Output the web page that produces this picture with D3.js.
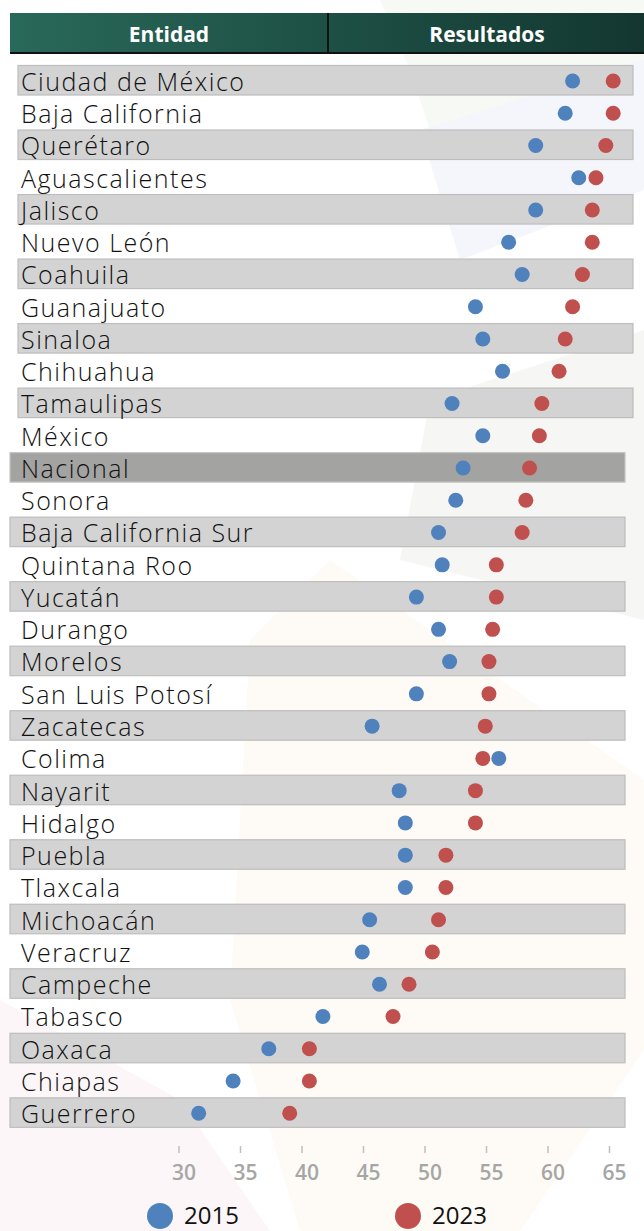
<!DOCTYPE html>
<html>
<head>
<meta charset="utf-8">
<script src="https://cdn.jsdelivr.net/npm/d3@7"></script>
<style>
  body { margin: 0; background: #fff; }
  svg { display: block; }
  text { font-family: "Open Sans", "Noto Sans", sans-serif; }
</style>
</head>
<body>
<div id="chart"></div>
<script>
var entidades = ["Ciudad de México", "Baja California", "Querétaro", "Aguascalientes", "Jalisco",
    "Nuevo León", "Coahuila", "Guanajuato", "Sinaloa", "Chihuahua", "Tamaulipas", "México",
    "Nacional", "Sonora", "Baja California Sur", "Quintana Roo", "Yucatán", "Durango", "Morelos",
    "San Luis Potosí", "Zacatecas", "Colima", "Nayarit", "Hidalgo", "Puebla", "Tlaxcala",
    "Michoacán", "Veracruz", "Campeche", "Tabasco", "Oaxaca", "Chiapas", "Guerrero"];
var v2015 = [62.0, 61.4, 59.0, 62.5, 59.0, 56.8, 57.9, 54.1, 54.7, 56.3, 52.2, 54.7,
    53.1, 52.5, 51.1, 51.4, 49.3, 51.1, 52.0, 49.3, 45.7, 56.0, 47.9, 48.4, 48.4, 48.4,
    45.5, 44.9, 46.3, 41.7, 37.3, 34.4, 31.6];
var v2023 = [65.3, 65.3, 64.7, 63.9, 63.6, 63.6, 62.8, 62.0, 61.4, 60.9, 59.5, 59.3,
    58.5, 58.2, 57.9, 55.8, 55.8, 55.5, 55.2, 55.2, 54.9, 54.7, 54.1, 54.1, 51.7, 51.7,
    51.1, 50.6, 48.7, 47.4, 40.6, 40.6, 39.0];
var tickValues = [30, 35, 40, 45, 50, 55, 60, 65];
var series = ["2015", "2023"];
var colors = ["#4f81bd", "#c0504d"];

var W = 644, H = 1231;
var svg = d3.select("#chart").append("svg").attr("width", W).attr("height", H);

// faint watermark shapes in the background
var bg = svg.append("g");
[
  {pts: [[380,0],[644,0],[644,120],[470,250],[410,70]], c: "#f7f9f5"},
  {pts: [[644,60],[420,130],[460,260],[644,190]], c: "#f5f6fc"},
  {pts: [[644,330],[430,400],[400,560],[644,620]], c: "#f6f6f5"},
  {pts: [[250,640],[330,560],[644,780],[644,1050],[520,1231],[300,1231],[230,1000]], c: "#fefbf6"},
  {pts: [[0,1000],[180,1100],[270,1231],[0,1231]], c: "#fcf6f9"}
].forEach(function(s) {
    bg.append("polygon").attr("points", s.pts.join(" ")).attr("fill", s.c);
});

// header
var grad = svg.append("defs").append("linearGradient").attr("id", "hdr");
grad.append("stop").attr("offset", "0%").attr("stop-color", "#29695a");
grad.append("stop").attr("offset", "100%").attr("stop-color", "#133730");
svg.append("rect").attr("x", 10).attr("y", 13).attr("width", W - 10).attr("height", 40)
    .attr("fill", "url(#hdr)");
svg.append("line").attr("x1", 10).attr("x2", W).attr("y1", 53).attr("y2", 53)
    .attr("stroke", "#111").attr("stroke-width", 2);
svg.append("line").attr("x1", 328).attr("x2", 328).attr("y1", 13).attr("y2", 53)
    .attr("stroke", "#111").attr("stroke-width", 2);
svg.append("text").attr("x", 169).attr("y", 42).attr("text-anchor", "middle")
    .attr("fill", "#fff").attr("font-size", 21).attr("font-weight", 700).text("Entidad");
svg.append("text").attr("x", 487).attr("y", 42).attr("text-anchor", "middle")
    .attr("fill", "#fff").attr("font-size", 21).attr("font-weight", 700).text("Resultados");

var x = d3.scaleLinear().domain([30, 65]).range([179, 609.5]);
var y = d3.scaleBand().domain(entidades).range([64.3, 64.3 + 33 * 32.26]);

var rows = svg.append("g").selectAll("g").data(entidades).join("g")
    .attr("transform", function(d) { return "translate(0," + y(d) + ")"; });

// alternate bands; the upper block sits a bit to the right of the lower one
rows.filter(function(d, i) { return i % 2 == 0; })
    .append("rect")
    .attr("x", function(d, i) { return entidades.indexOf(d) < 12 ? 18 : 10; })
    .attr("y", 1.2)
    .attr("width", 615)
    .attr("height", 29.5)
    .attr("fill", function(d) { return d == "Nacional" ? "#a3a3a1" : "#d3d3d3"; })
    .attr("stroke", function(d) { return d == "Nacional" ? "#c4c4c4" : "#bdbdbd"; })
    .attr("stroke-width", 1.2);

rows.append("text")
    .attr("x", 21)
    .attr("y", 26.5)
    .attr("font-size", 25)
    .attr("font-weight", 300)
    .attr("letter-spacing", 1.5)
    .attr("fill", "#111")
    .text(function(d) { return d; });

var vals = [v2015, v2023];
series.forEach(function(s, k) {
    rows.append("circle")
        .attr("cx", function(d, i) { return x(vals[k][entidades.indexOf(d)]); })
        .attr("cy", y.bandwidth() / 2 + 0.5)
        .attr("r", 7.5)
        .attr("fill", colors[k]);
});

// axis
var axis = svg.append("g").attr("transform", "translate(0,1146)");
axis.selectAll("line").data(tickValues).join("line")
    .attr("x1", x).attr("x2", x).attr("y1", 0).attr("y2", 7)
    .attr("stroke", "#bfbfbf").attr("stroke-width", 1.5);
axis.selectAll("text").data(tickValues).join("text")
    .attr("x", function(d) { return x(d) + 5; })
    .attr("y", 34)
    .attr("text-anchor", "middle")
    .attr("font-size", 21)
    .attr("font-weight", 600)
    .attr("fill", "#a6a6a6")
    .text(function(d) { return d; });

// legend
var legX = [160, 408];
var leg = svg.append("g").selectAll("g").data(series).join("g")
    .attr("transform", function(d, i) { return "translate(" + legX[i] + ",1216)"; });
leg.append("circle").attr("r", 13).attr("fill", function(d, i) { return colors[i]; });
leg.append("text").attr("x", 24).attr("y", 8).attr("font-size", 24).attr("fill", "#111")
    .text(function(d) { return d; });
</script>
</body>
</html>
